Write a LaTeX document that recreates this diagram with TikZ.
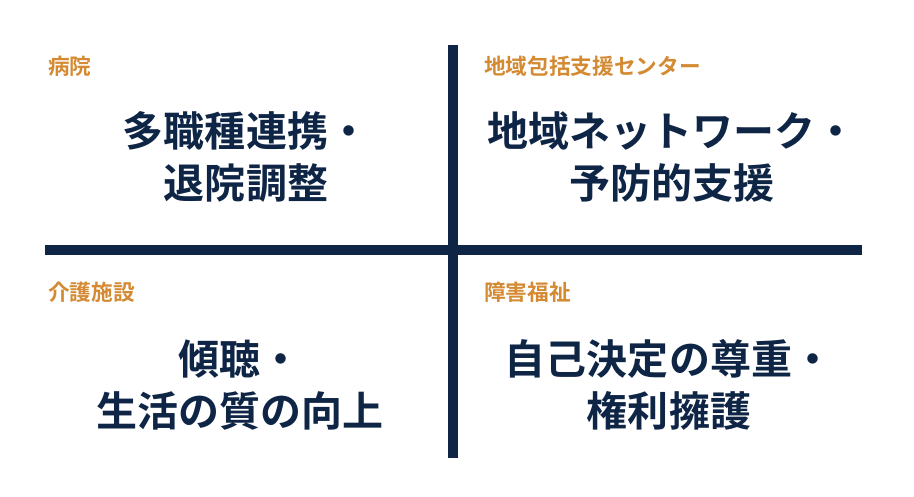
\documentclass[tikz,border=0pt]{standalone}
\usepackage{fontspec}
\usepackage{tikz}
\newfontfamily\jpfont{Noto Sans CJK JP}[BoldFont={Noto Sans CJK JP Bold}]
\definecolor{navy}{HTML}{0E2545}
\definecolor{ochre}{HTML}{D48A33}
\tikzset{
  heading/.style={anchor=west, text=ochre, font=\jpfont\bfseries\fontsize{18.5}{22}\selectfont, inner sep=0pt},
  role/.style={align=center, text=navy, font=\jpfont\bfseries\fontsize{35}{45}\selectfont, inner sep=0pt},
  axis/.style={draw=navy, line width=7.7pt}
}

\begin{document}
\begin{tikzpicture}[line cap=butt, line join=round, x=0.03cm, y=-0.03cm]
                \useasboundingbox (0, 0) rectangle (914, 496);
                \coordinate (top) at (453, 45);
                \coordinate (bottom) at (453, 458);
                \coordinate (left) at (45, 250);
                \coordinate (right) at (862, 250);
                \draw[axis] (top) -- (bottom);
                \draw[axis] (left) -- (right);
                % headings of the four fields
                \foreach \name/\x/\y/\txt in {hosp/48/66/病院, center/484/66/地域包括支援センター,
                        care/48/292/介護施設, disab/484/292/障害福祉}
                    \node[heading] (\name) at (\x, \y) {\txt};
                % roles
                \node[role] (hospRole) at (246, 157) {多職種連携・\\退院調整};
                \node[role] (centerRole) at (672, 157) {地域ネットワーク・\\予防的支援};
                \node[role] (careRole) at (240, 385) {傾聴・\\生活の質の向上};
                \node[role] (disabRole) at (669, 385) {自己決定の尊重・\\権利擁護};
            \end{tikzpicture}
\end{document}
